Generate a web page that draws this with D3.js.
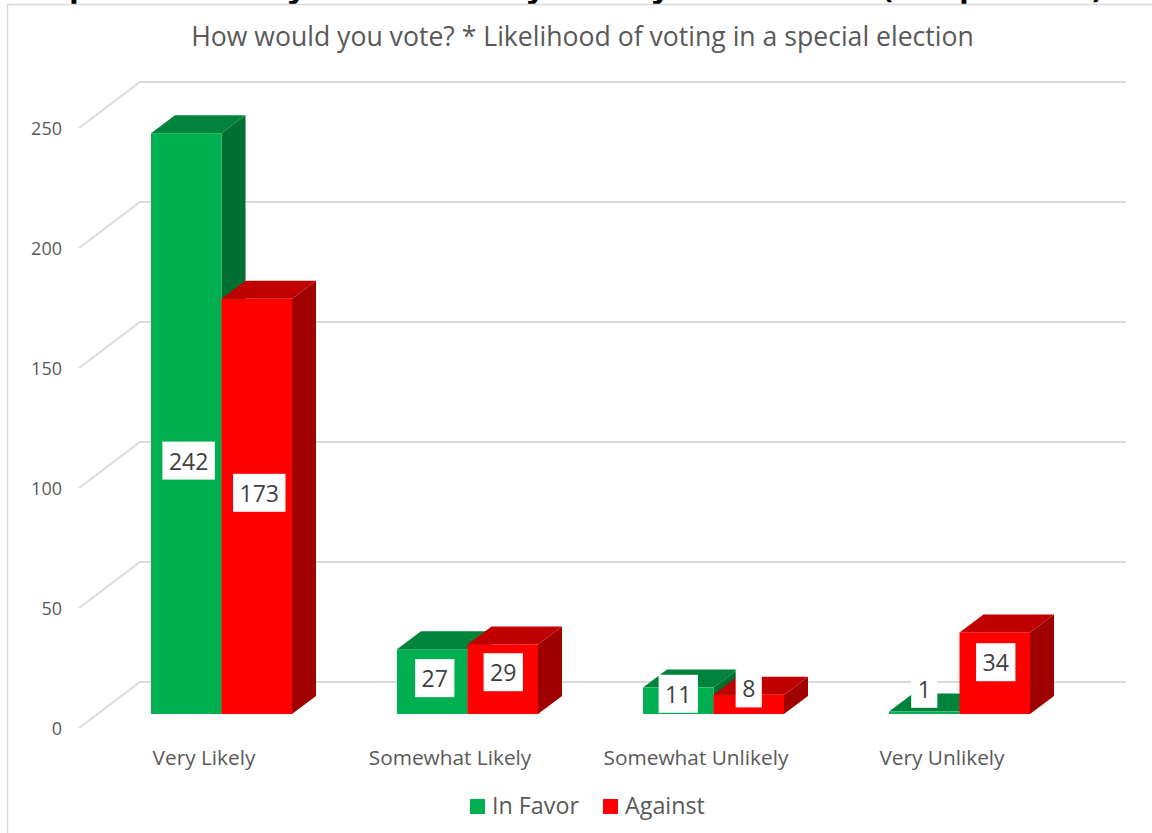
<!DOCTYPE html>
<html>
<head>
<meta charset="utf-8">
<script src="https://cdn.jsdelivr.net/npm/d3@7"></script>
<style>
  html, body { margin: 0; padding: 0; background: #fff; }
  svg { display: block; }
  text { font-family: "Open Sans", sans-serif; fill: #595959; }
</style>
</head>
<body>
<svg id="chart" width="1152" height="833"></svg>
<script>
const categories = ["Very Likely", "Somewhat Likely", "Somewhat Unlikely", "Very Unlikely"];
const inFavor = [242, 27, 11, 1];
const against = [173, 29, 8, 34];
const valueTicks = [0, 50, 100, 150, 200, 250];
const chartTitle = "How would you vote? * Likelihood of voting in a special election";
// Only the lowest strokes of the page heading show above the chart frame.
const headingGlyphs = ["p", "y", "y", "y", "(", "p", ")"];
const headingGlyphX = [69, 288, 527, 652, 882, 959, 1092];

// Hand-placed data label offsets from the centre of each bar's front face.
const favorNudge = [[2.4, 37], [2.5, -3.5], [0, -7], [0, -24]];
const againstNudge = [[2.5, -13.6], [0.5, -7], [0, -16], [1, -11]];

const colors = {
  favor: { front: "#00B050", top: "#00843C", side: "#006F32" },
  against: { front: "#FF0000", top: "#C00000", side: "#9F0000" }
};

const svg = d3.select("#chart");
const depth = { x: 24, y: -18 };
const wall = { x: 61, y: -46, left: 79, right: 1126 };

const y = d3.scaleLinear().domain([0, 250]).range([728, 128]);
const frontY = v => y(v) - 14;
const x = d3.scaleBand().domain(categories).range([151, 1030]).paddingInner(105 / 246).paddingOuter(0);

// Page heading, clipped by the chart frame below it
const heading = svg.append("g");
heading.selectAll("text").data(headingGlyphs).join("text")
  .attr("x", (d, i) => headingGlyphX[i])
  .attr("y", -3)
  .style("font-size", "32px").style("font-weight", 700).style("fill", "#000")
  .text(d => d);

// Chart frame
svg.append("rect").attr("x", 7.5).attr("y", 4.5).attr("width", 1160).attr("height", 840)
  .attr("fill", "#fff").attr("stroke", "#D9D9D9").attr("stroke-width", 1.5);

svg.append("text").attr("x", 582.5).attr("y", 36).attr("text-anchor", "middle")
  .attr("dominant-baseline", "central").style("font-size", "26.6px").text(chartTitle);

// Gridlines on the back wall and their run down the side wall
const grid = svg.append("g").attr("fill", "none").attr("stroke", "#DADADA").attr("stroke-width", 1.8);
grid.selectAll("path").data(valueTicks).join("path")
  .attr("d", v => d3.line()([
    [wall.left, y(v)],
    [wall.left + wall.x, y(v) + wall.y],
    [wall.right, y(v) + wall.y]
  ]));

svg.append("g").selectAll("text").data(valueTicks).join("text")
  .attr("x", 62).attr("y", v => y(v)).attr("text-anchor", "end")
  .attr("dominant-baseline", "central").style("font-size", "18px").text(v => v);

// Extruded column: side and top faces first, then the front face
function drawColumn(g, left, width, value, c) {
  const top = frontY(value), base = frontY(0), right = left + width;
  const poly = pts => d3.line()(pts) + "Z";
  g.append("path").attr("fill", c.side).attr("d", poly([
    [right, top], [right + depth.x, top + depth.y], [right + depth.x, base + depth.y], [right, base]
  ]));
  g.append("path").attr("fill", c.top).attr("d", poly([
    [left, top], [left + depth.x, top + depth.y], [right + depth.x, top + depth.y], [right, top]
  ]));
  g.append("rect").attr("fill", c.front).attr("x", left).attr("y", top)
    .attr("width", width).attr("height", base - top);
}

const bw = x.bandwidth() / 2;
const bars = svg.append("g");
categories.forEach((cat, i) => {
  drawColumn(bars, x(cat), bw, inFavor[i], colors.favor);
  drawColumn(bars, x(cat) + bw, bw, against[i], colors.against);
});

// Data labels on white plates
function drawLabel(left, value, nudge) {
  const cx = left + bw / 2 + nudge[0];
  const cy = (frontY(value) + frontY(0)) / 2 + nudge[1];
  const g = svg.append("g");
  const plate = g.append("rect").attr("fill", "#fff");
  const t = g.append("text").attr("x", cx).attr("y", cy).attr("text-anchor", "middle")
    .attr("dominant-baseline", "central").style("font-size", "23px").style("fill", "#404040").text(value);
  const w = t.node().getComputedTextLength() + 13;
  plate.attr("x", cx - w / 2).attr("y", cy - 19).attr("width", w).attr("height", 38);
}
categories.forEach((cat, i) => {
  drawLabel(x(cat), inFavor[i], favorNudge[i]);
  drawLabel(x(cat) + bw, against[i], againstNudge[i]);
});

// Category axis labels
svg.append("g").selectAll("text").data(categories).join("text")
  .attr("x", c => x(c) + x.bandwidth() / 2 - 17.5).attr("y", 757).attr("text-anchor", "middle")
  .attr("dominant-baseline", "central").style("font-size", "20.8px").text(c => c);

// Legend
const legendItems = [
  { label: "In Favor", color: colors.favor.front, x: 470 },
  { label: "Against", color: colors.against.front, x: 603 }
];
const legend = svg.append("g").selectAll("g").data(legendItems).join("g");
legend.append("rect").attr("x", d => d.x).attr("y", 799).attr("width", 15).attr("height", 15).attr("fill", d => d.color);
legend.append("text").attr("x", d => d.x + 22).attr("y", 805).attr("dominant-baseline", "central")
  .style("font-size", "23.3px").text(d => d.label);
</script>
</body>
</html>
